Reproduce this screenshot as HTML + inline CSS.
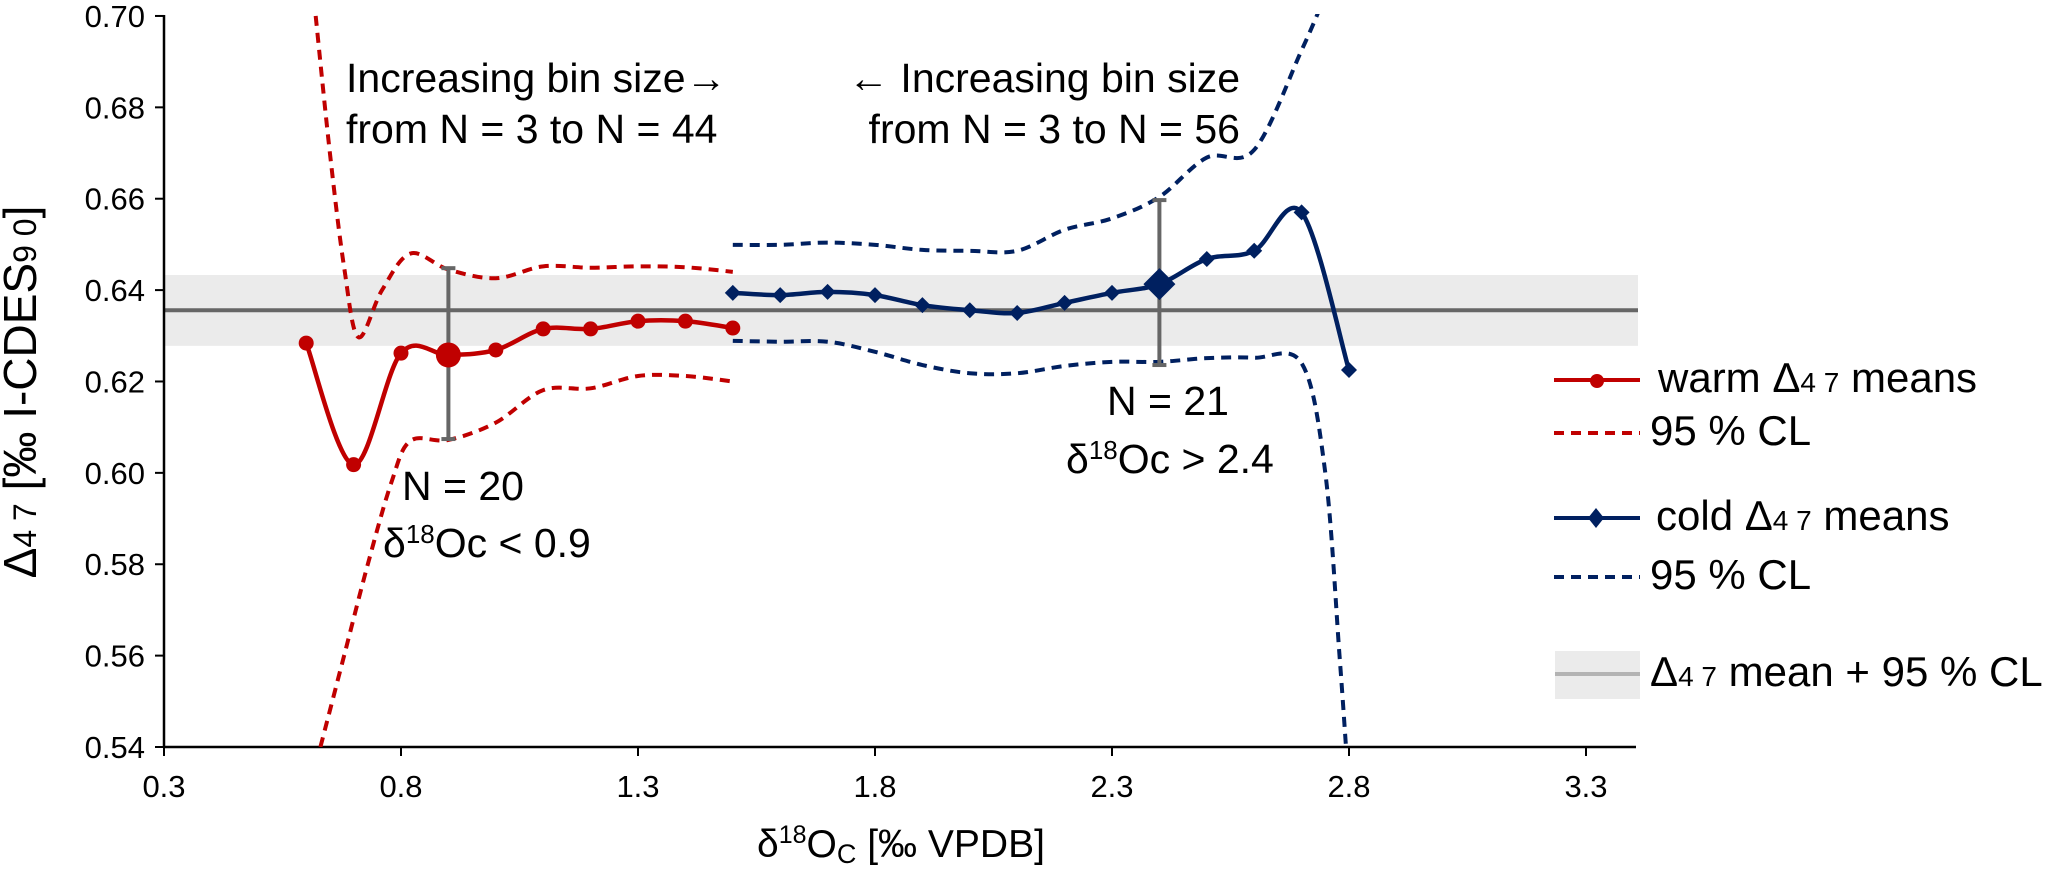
<!DOCTYPE html>
<html><head><meta charset="utf-8"><style>
html,body{margin:0;padding:0;background:#fff;}
svg{display:block;font-family:"Liberation Sans",Arial,sans-serif;}
</style></head><body>
<svg id="chart" width="2067" height="869" viewBox="0 0 2067 869">
<defs><clipPath id="plotclip"><rect x="164" y="14" width="1480" height="733"/></clipPath></defs>
<g id="band-layer"></g>
<g id="axes"></g>
<g id="series" clip-path="url(#plotclip)"></g>
<g id="markers"></g>
<g id="texts">
<text x="346" y="92" font-size="41">Increasing bin size→</text>
<text x="346" y="143" font-size="41">from N = 3 to N = 44</text>
<text x="1240" y="92" font-size="41" text-anchor="end">← Increasing bin size</text>
<text x="1240" y="143" font-size="41" text-anchor="end">from N = 3 to N = 56</text>
<text x="402" y="500" font-size="41">N = 20</text>
<text x="383" y="557" font-size="41">δ<tspan font-size="26" dy="-14">18</tspan><tspan dy="14">Oc &lt; 0.9</tspan></text>
<text x="1107" y="415" font-size="41">N = 21</text>
<text x="1066" y="473" font-size="41">δ<tspan font-size="26" dy="-14">18</tspan><tspan dy="14">Oc &gt; 2.4</tspan></text>
<text x="757" y="857" font-size="39">δ<tspan font-size="25" dy="-14">18</tspan><tspan dy="14">O</tspan><tspan font-size="27" dy="6">C</tspan><tspan dy="-6"> [‰ VPDB]</tspan></text>
<text transform="translate(36,392) rotate(-90)" font-size="46" text-anchor="middle">Δ<tspan font-size="32">4 7</tspan> [‰ I-CDES<tspan font-size="32">9 0</tspan>]</text>
</g>
<g id="legend">
<g>
<line x1="1554" y1="380" x2="1640" y2="380" stroke="#c00000" stroke-width="4"/>
<circle cx="1597" cy="381" r="7" fill="#c00000"/>
<text x="1658" y="392" font-size="42">warm Δ<tspan font-size="28">4 7</tspan> means</text></g>
<g>
<line x1="1554" y1="433" x2="1640" y2="433" stroke="#c00000" stroke-width="4" stroke-dasharray="10,7"/>
<text x="1650" y="445" font-size="42">95 % CL</text></g>
<g>
<line x1="1554" y1="518" x2="1640" y2="518" stroke="#002060" stroke-width="4"/>
<path d="M1596,508 L1604,518 L1596,528 L1588,518Z" fill="#002060"/>
<text x="1656" y="530" font-size="42">cold Δ<tspan font-size="28">4 7</tspan> means</text></g>
<g>
<line x1="1554" y1="577" x2="1640" y2="577" stroke="#002060" stroke-width="4" stroke-dasharray="10,7"/>
<text x="1650" y="589" font-size="42">95 % CL</text></g>
<g>
<rect x="1555" y="651" width="85" height="48" fill="#ebebeb"/>
<line x1="1555" y1="674" x2="1640" y2="674" stroke="#b3b3b3" stroke-width="4"/>
<text x="1650" y="686" font-size="42">Δ<tspan font-size="28">4 7</tspan> mean + 95 % CL</text></g>
</g>
</svg>
<script>
const xTicks = [0.3, 0.8, 1.3, 1.8, 2.3, 2.8, 3.3];
const yTicks = [0.54, 0.56, 0.58, 0.60, 0.62, 0.64, 0.66, 0.68, 0.70];
const warmX = [0.6, 0.7, 0.8, 0.9, 1.0, 1.1, 1.2, 1.3, 1.4, 1.5];
const warmY = [0.6284, 0.6018, 0.6262, 0.6258, 0.6269, 0.6315, 0.6315, 0.6332, 0.6332, 0.6317];
const warmUpX = [0.62, 0.65, 0.68, 0.71, 0.76, 0.82, 0.9, 1.0, 1.1, 1.2, 1.3, 1.4, 1.5];
const warmUpY = [0.70, 0.67, 0.645, 0.6297, 0.640, 0.648, 0.6445, 0.6426, 0.6452, 0.6449, 0.6452, 0.645, 0.644];
const warmLoX = [0.63, 0.68, 0.73, 0.78, 0.82, 0.9, 1.0, 1.1, 1.2, 1.3, 1.4, 1.5];
const warmLoY = [0.54, 0.56, 0.58, 0.598, 0.607, 0.6072, 0.611, 0.6181, 0.6185, 0.6212, 0.6212, 0.620];
const coldX = [1.5, 1.6, 1.7, 1.8, 1.9, 2.0, 2.1, 2.2, 2.3, 2.4, 2.5, 2.6, 2.7, 2.8];
const coldY = [0.6394, 0.6389, 0.6396, 0.6389, 0.6367, 0.6356, 0.635, 0.6372, 0.6394, 0.6413, 0.6468, 0.6486, 0.657, 0.6225];
const coldUpX = [1.5, 1.6, 1.7, 1.8, 1.9, 2.0, 2.1, 2.2, 2.3, 2.4, 2.5, 2.6, 2.7, 2.74];
const coldUpY = [0.6499, 0.6499, 0.6504, 0.6499, 0.6488, 0.6486, 0.6486, 0.6532, 0.6557, 0.6604, 0.669, 0.6707, 0.6925, 0.702];
const coldLoX = [1.5, 1.6, 1.7, 1.8, 1.9, 2.0, 2.1, 2.2, 2.3, 2.4, 2.5, 2.6, 2.7, 2.75, 2.78, 2.795];
const coldLoY = [0.6289, 0.6287, 0.6287, 0.6265, 0.6236, 0.6218, 0.6218, 0.6234, 0.6243, 0.6243, 0.6251, 0.6252, 0.624, 0.60, 0.56, 0.538];
const meanValue = [0.6356];
const bandLimits = [0.6278, 0.6433];
const errWarm = [0.9, 0.6074, 0.6448];
const errCold = [2.4, 0.6236, 0.6597];
const bigWarm = [0.9, 0.6258];
const bigCold = [2.4, 0.6413];

const NS = "http://www.w3.org/2000/svg";
function xs(v){ return 164 + (v - 0.3) * 474; }
function ys(v){ return 747 - (v - 0.54) * 4569; }
function mk(tag, attrs, parent){
  const e = document.createElementNS(NS, tag);
  for (const k in attrs) e.setAttribute(k, attrs[k]);
  parent.appendChild(e); return e;
}
function spline(X, Y){
  const p = X.map((x,i)=>[xs(x), ys(Y[i])]);
  let d = "M" + p[0][0] + "," + p[0][1];
  for (let i=0;i<p.length-1;i++){
    const p0=p[Math.max(0,i-1)], p1=p[i], p2=p[i+1], p3=p[Math.min(p.length-1,i+2)];
    const t=6;
    d += " C" + (p1[0]+(p2[0]-p0[0])/t) + "," + (p1[1]+(p2[1]-p0[1])/t) + " " +
         (p2[0]-(p3[0]-p1[0])/t) + "," + (p2[1]-(p3[1]-p1[1])/t) + " " + p2[0] + "," + p2[1];
  }
  return d;
}
const band = document.getElementById('band-layer');
const axes = document.getElementById('axes');
const series = document.getElementById('series');
const markers = document.getElementById('markers');

const br = mk('rect', {x:164, y:ys(bandLimits[1]), width:1474, height:ys(bandLimits[0])-ys(bandLimits[1]), fill:'#ebebeb'}, band);


const ml = mk('line', {x1:164, x2:1638, y1:ys(meanValue[0]), y2:ys(meanValue[0]), stroke:'#666', 'stroke-width':4}, band);



const ya = mk('line', {x1:164, x2:164, y1:15, y2:748, stroke:'#000', 'stroke-width':2.5}, axes);


const xa = mk('line', {x1:163, x2:1636, y1:747, y2:747, stroke:'#000', 'stroke-width':2.5}, axes);


yTicks.forEach(v=>{
  mk('line', {x1:155, x2:164, y1:ys(v), y2:ys(v), stroke:'#000', 'stroke-width':2}, axes);
  const t = mk('text', {x:145, y:ys(v)+11, 'font-size':31, 'text-anchor':'end'}, axes);
  t.textContent = v.toFixed(2);
  
  
});
xTicks.forEach(v=>{
  mk('line', {x1:xs(v), x2:xs(v), y1:747, y2:756, stroke:'#000', 'stroke-width':2}, axes);
  const t = mk('text', {x:xs(v), y:797, 'font-size':31, 'text-anchor':'middle'}, axes);
  t.textContent = v.toFixed(1);
  
  
});

function curve(X, Y, color, dashed, name){
  const p = mk('path', {d:spline(X,Y), fill:'none', stroke:color, 'stroke-width': dashed?4:4.5, 'stroke-dasharray': dashed?'10,7':'none'}, series);
  
  
}
curve(warmUpX, warmUpY, '#c00000', true, 'warm-cl-upper');
curve(warmLoX, warmLoY, '#c00000', true, 'warm-cl-lower');
curve(coldUpX, coldUpY, '#002060', true, 'cold-cl-upper');
curve(coldLoX, coldLoY, '#002060', true, 'cold-cl-lower');

function errbar(e, name){
  const g = mk('g', {stroke:'#666', 'stroke-width':4}, markers);
  
  
  mk('line', {x1:xs(e[0]), x2:xs(e[0]), y1:ys(e[1]), y2:ys(e[2])}, g);
  mk('line', {x1:xs(e[0])-7, x2:xs(e[0])+7, y1:ys(e[1]), y2:ys(e[1])}, g);
  mk('line', {x1:xs(e[0])-7, x2:xs(e[0])+7, y1:ys(e[2]), y2:ys(e[2])}, g);
}
errbar(errWarm, 'warm-error-bar');
errbar(errCold, 'cold-error-bar');

curve(warmX, warmY, '#c00000', false, 'warm-means-line');
curve(coldX, coldY, '#002060', false, 'cold-means-line');

warmX.forEach((x,i)=>{
  const c = mk('circle', {cx:xs(x), cy:ys(warmY[i]), r:7.5, fill:'#c00000'}, markers);
  
  
});
coldX.forEach((x,i)=>{
  const cx=xs(x), cy=ys(coldY[i]);
  const d = mk('path', {d:`M${cx},${cy-8} L${cx+8},${cy} L${cx},${cy+8} L${cx-8},${cy}Z`, fill:'#002060'}, markers);
  
  
});
const bw = mk('circle', {cx:xs(bigWarm[0]), cy:ys(bigWarm[1]), r:12.5, fill:'#c00000'}, markers);


const bcx = xs(bigCold[0]), bcy = ys(bigCold[1]);
const bc = mk('path', {d:`M${bcx},${bcy-16} L${bcx+16},${bcy} L${bcx},${bcy+16} L${bcx-16},${bcy}Z`, fill:'#002060'}, markers);


</script>
</body></html>
